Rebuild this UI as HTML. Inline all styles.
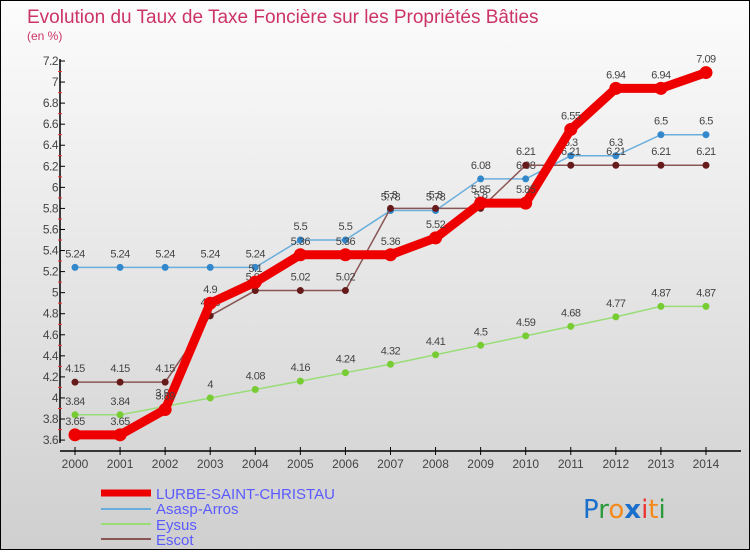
<!DOCTYPE html>
<html><head><meta charset="utf-8"><style>
body{margin:0;width:750px;height:550px;overflow:hidden}
#c{position:relative;width:748px;height:548px;border:1px solid #000;background:linear-gradient(#fcfcfc,#cfcfcf);font-family:"Liberation Sans",sans-serif}
</style></head><body>
<div id="c">
<svg id="s" width="748" height="548" xmlns="http://www.w3.org/2000/svg">
<text x="26" y="22" font-size="19" fill="#cc3366">Evolution du Taux de Taxe Foncière sur les Propriétés Bâties</text>
<text x="26" y="39" font-size="12" fill="#cc3366">(en %)</text>
<g id="axes"></g><g id="plot"></g>
<g font-size="15" fill="#5a5aff">
<line x1="100" y1="492" x2="150" y2="492" stroke="#e00" stroke-width="7"/>
<text x="155" y="498">LURBE-SAINT-CHRISTAU</text>
<line x1="100" y1="508" x2="150" y2="508" stroke="#6aaedd" stroke-width="2"/>
<text x="155" y="513">Asasp-Arros</text>
<line x1="100" y1="523" x2="150" y2="523" stroke="#99dd77" stroke-width="2"/>
<text x="155" y="529">Eysus</text>
<line x1="100" y1="538" x2="150" y2="538" stroke="#8a5555" stroke-width="2"/>
<text x="155" y="544">Escot</text>
</g>
<text x="582" y="517" font-size="26" font-family="'DejaVu Sans',sans-serif"><tspan fill="#1a6fcc">P</tspan><tspan fill="#2a9a3a">r</tspan><tspan fill="#f58a1a">o</tspan><tspan fill="#1a6fcc" font-weight="bold">x</tspan><tspan fill="#e33">i</tspan><tspan fill="#f58a1a">t</tspan><tspan fill="#2a9a3a">i</tspan></text>
</svg></div>
<script>
const years=[2000,2001,2002,2003,2004,2005,2006,2007,2008,2009,2010,2011,2012,2013,2014];
const lurbe=[3.65,3.65,3.89,4.9,5.1,5.36,5.36,5.36,5.52,5.85,5.85,6.55,6.94,6.94,7.09];
const asasp=[5.24,5.24,5.24,5.24,5.24,5.5,5.5,5.78,5.78,6.08,6.08,6.3,6.3,6.5,6.5];
const eysus=[3.84,3.84,3.92,4,4.08,4.16,4.24,4.32,4.41,4.5,4.59,4.68,4.77,4.87,4.87];
const escot=[4.15,4.15,4.15,4.78,5.02,5.02,5.02,5.8,5.8,5.8,6.21,6.21,6.21,6.21,6.21];
const yTicks=[3.6,3.8,4,4.2,4.4,4.6,4.8,5,5.2,5.4,5.6,5.8,6,6.2,6.4,6.6,6.8,7,7.2];
const NS='http://www.w3.org/2000/svg';
const X=i=>74+i*45.07, Y=v=>60+(7.2-v)*105.3;
function el(t,a,p){const e=document.createElementNS(NS,t);for(const k in a)e.setAttribute(k,a[k]);p.appendChild(e);return e;}
const ax=document.getElementById('axes'),pl=document.getElementById('plot');
let a=el('line',{x1:59,y1:58,x2:59,y2:442,stroke:'#000','stroke-width':1.5},ax);

a=el('line',{x1:59,y1:450,x2:740,y2:450,stroke:'#000','stroke-width':1.5},ax);

yTicks.forEach((v,i)=>{
 el('line',{x1:59,y1:Y(v),x2:64,y2:Y(v),stroke:'#000'},ax);
 if(i<yTicks.length-1)el('line',{x1:57,y1:Y(v+0.1),x2:61,y2:Y(v+0.1),stroke:'#e33'},ax);
 const t=el('text',{x:57,y:Y(v)+4,'font-size':12,'text-anchor':'end',fill:'#444','letter-spacing':'-0.5'},ax);
 t.textContent=String(v);
 
});
years.forEach((y,i)=>{
 el('line',{x1:X(i),y1:446,x2:X(i),y2:454,stroke:'#000'},ax);
 const t=el('text',{x:X(i),y:467,'font-size':12,'text-anchor':'middle',fill:'#444'},ax);
 t.textContent=y;
 
});
function series(d,name,color,w,r,dot){
 const g=el('g',{},pl);
 
 el('polyline',{points:d.map((v,i)=>X(i)+','+Y(v)).join(' '),fill:'none',stroke:color,'stroke-width':w,'stroke-linejoin':'round'},g);
 d.forEach((v,i)=>{
  const c=el('circle',{cx:X(i),cy:Y(v),r:r,fill:dot},g);
  
  const t=el('text',{x:X(i),y:Y(v)-10,'font-size':11,'text-anchor':'middle',fill:'#444','letter-spacing':'-0.5'},g);
  t.textContent=String(v);
  
 });
}
series(eysus,'eysus','#99dd77',1.5,3.5,'#77cc33');
series(asasp,'asasp','#6aaedd',1.5,3.5,'#3388cc');
series(escot,'escot','#8a5555',1.5,3.5,'#661a1a');
series(lurbe,'lurbe','#e00',9,6.5,'#e00');
</script></body></html>
